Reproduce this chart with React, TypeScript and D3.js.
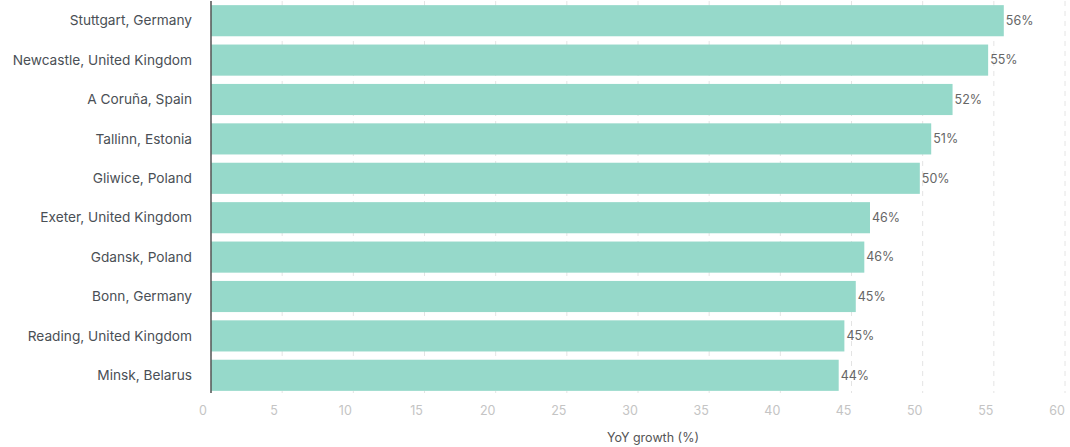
import React from "react";
import * as d3 from "d3";

const categories = [
  "Stuttgart, Germany",
  "Newcastle, United Kingdom",
  "A Coruña, Spain",
  "Tallinn, Estonia",
  "Gliwice, Poland",
  "Exeter, United Kingdom",
  "Gdansk, Poland",
  "Bonn, Germany",
  "Reading, United Kingdom",
  "Minsk, Belarus",
];
const values = [55.7, 54.6, 52.1, 50.6, 49.8, 46.3, 45.9, 45.3, 44.5, 44.1];
const valueLabels = ["56%", "55%", "52%", "51%", "50%", "46%", "46%", "45%", "45%", "44%"];
const ticks = [0, 5, 10, 15, 20, 25, 30, 35, 40, 45, 50, 55, 60];
const axisTitle = "YoY growth (%)";

const W = 1070;
const H = 447;
const FONT = "Inter, Roboto, 'Noto Sans', sans-serif";

export default function App() {
  const x = d3.scaleLinear().domain([0, 60]).range([211, 1065]);
  const y = d3
    .scaleBand<string>()
    .domain(categories)
    .range([1, 395])
    .paddingInner(0.21)
    .paddingOuter(0.105);

  return (
    <svg
      width={W}
      height={H}
      style={{ position: "absolute", left: 0, top: 0, background: "#fff" }}
      fontFamily={FONT}
    >
      {ticks.map((t) => (
        <line
          key={"g" + t}
          x1={x(t)}
          x2={x(t)}
          y1={1}
          y2={393}
          stroke="#e4e4e4"
          strokeWidth={1}
          strokeDasharray="5,5"
        />
      ))}
      {categories.map((c, i) => (
        <rect
          key={"b" + c}
          x={x(0)}
          y={y(c)}
          width={x(values[i]) - x(0)}
          height={y.bandwidth()}
          fill="#96d9ca"
        />
      ))}
      <line x1={x(0)} x2={x(0)} y1={1} y2={393} stroke="#555" strokeWidth={1.5} />
      {categories.map((c) => (
        <text
          key={"l" + c}
          x={192}
          y={(y(c) ?? 0) + y.bandwidth() / 2}
          dy="0.35em"
          textAnchor="end"
          fontSize={13.7}
          fill="#4a4f55"
        >
          {c}
        </text>
      ))}
      {categories.map((c, i) => (
        <text
          key={"v" + c}
          x={x(values[i]) + 2}
          y={(y(c) ?? 0) + y.bandwidth() / 2}
          dy="0.35em"
          fontSize={12.5}
          fill="#666"
        >
          {valueLabels[i]}
        </text>
      ))}
      {ticks.map((t) => (
        <text
          key={"t" + t}
          x={x(t) - 8}
          y={415}
          textAnchor="middle"
          fontSize={12.5}
          fill="#c4c4c4"
        >
          {t}
        </text>
      ))}
      <text x={x(30) + 15} y={442} textAnchor="middle" fontSize={12.5} fill="#555">
        {axisTitle}
      </text>
    </svg>
  );
}
